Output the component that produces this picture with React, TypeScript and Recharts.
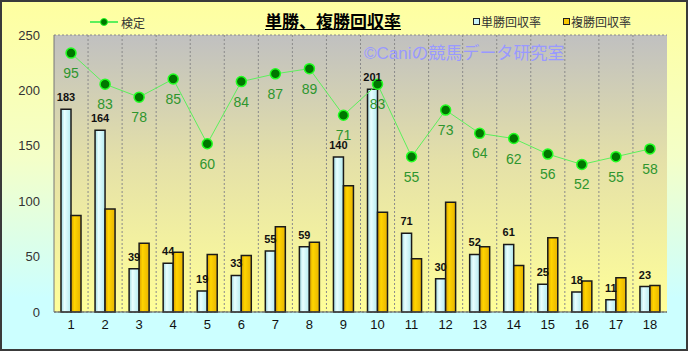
import React from 'react';
import { ComposedChart, Bar, Line, XAxis, YAxis, CartesianGrid, LabelList } from 'recharts';

const races = ['1', '2', '3', '4', '5', '6', '7', '8', '9', '10', '11', '12', '13', '14', '15', '16', '17', '18'];
const tanshoRate = [183, 164, 39, 44, 19, 33, 55, 59, 140, 201, 71, 30, 52, 61, 25, 18, 11, 23];
const fukushoRate = [87, 93, 62, 54, 52, 51, 77, 63, 114, 90, 48, 99, 59, 42, 67, 28, 31, 24];
const kenteiRate = [95, 83, 78, 85, 60, 84, 87, 89, 71, 83, 55, 73, 64, 62, 56, 52, 55, 58];
const yTicks = [0, 50, 100, 150, 200, 250];
// secondary (hidden) axis range for the 検定 line
const kenteiDomain = [-5, 102];

const data = races.map((race, i) => ({
  race,
  tansho: tanshoRate[i],
  fukusho: fukushoRate[i],
  kentei: kenteiRate[i],
}));

const FONT = "'Liberation Sans', 'Noto Sans CJK JP', sans-serif";

const TanshoLabel = (props: any) => {
  const x = Number(props.x), y = Number(props.y), w = Number(props.width);
  return (
    <text x={x + w / 2} y={y - 8} textAnchor="middle" fontSize={11} fontWeight="bold" fill="#111" fontFamily={FONT}>
      {props.value}
    </text>
  );
};

const KenteiLabel = (props: any) => {
  const x = Number(props.x), y = Number(props.y);
  return (
    <text x={x} y={y + 25} textAnchor="middle" fontSize={14} fill="#2e962e" fontFamily={FONT}>
      {props.value}
    </text>
  );
};

export default function App() {
  return (
    <div
      style={{
        position: 'absolute',
        left: 0,
        top: 0,
        width: 688,
        height: 351,
        background: 'linear-gradient(to bottom, #ffffa0 0%, #f4ffc8 45%, #ccffff 85%, #ccffff 100%)',
        fontFamily: FONT,
        overflow: 'hidden',
      }}
    >
      <ComposedChart
        width={688}
        height={351}
        data={data}
        margin={{ top: 35, right: 21, bottom: 0, left: 0 }}
        barGap={0}
        barSize={10}
      >
        <defs>
          <linearGradient id="plotBg" x1="0" y1="0" x2="0" y2="1">
            <stop offset="0%" stopColor="#c0c0c0" />
            <stop offset="45%" stopColor="#e4e0a8" />
            <stop offset="100%" stopColor="#ffff99" />
          </linearGradient>
          <linearGradient id="cyanBar" x1="0" y1="0" x2="1" y2="0">
            <stop offset="0%" stopColor="#9ed8e0" />
            <stop offset="35%" stopColor="#e8ffff" />
            <stop offset="100%" stopColor="#b4eaf0" />
          </linearGradient>
          <linearGradient id="goldBar" x1="0" y1="0" x2="1" y2="0">
            <stop offset="0%" stopColor="#d8a000" />
            <stop offset="35%" stopColor="#ffd400" />
            <stop offset="100%" stopColor="#e8b400" />
          </linearGradient>
        </defs>
        <CartesianGrid
          fill="url(#plotBg)"
          stroke="#8a8a8a"
          strokeDasharray="2 2"
          verticalCoordinatesGenerator={(p: any) =>
            races.slice(1).map((_, i) => p.offset.left + (p.offset.width * (i + 1)) / races.length)
          }
        />
        <XAxis
          dataKey="race"
          height={39}
          axisLine={{ stroke: '#555' }}
          tickLine={false}
          tick={{ fill: '#111', fontSize: 13, fontFamily: FONT }}
        />
        <YAxis
          yAxisId="left"
          width={54}
          domain={[0, 250]}
          ticks={yTicks}
          axisLine={{ stroke: '#777' }}
          tickLine={false}
          tickMargin={8}
          tick={{ fill: '#333', fontSize: 13, fontFamily: FONT }}
        />
        <YAxis yAxisId="right" orientation="right" domain={kenteiDomain} allowDataOverflow hide />
        <Bar yAxisId="left" dataKey="tansho" fill="url(#cyanBar)" stroke="#1a1a1a" strokeWidth={1.5} isAnimationActive={false}>
          <LabelList dataKey="tansho" content={TanshoLabel} />
        </Bar>
        <Bar yAxisId="left" dataKey="fukusho" fill="url(#goldBar)" stroke="#1a1a1a" strokeWidth={1.5} isAnimationActive={false} />
        <Line
          yAxisId="right"
          dataKey="kentei"
          stroke="#5cf05c"
          strokeWidth={1}
          dot={{ r: 5, fill: '#007700', stroke: '#22ff22', strokeWidth: 1.5 }}
          isAnimationActive={false}
        >
          <LabelList dataKey="kentei" content={KenteiLabel} />
        </Line>
      </ComposedChart>

      {/* title */}
      <div
        style={{
          position: 'absolute',
          left: 260,
          top: 8,
          width: 146,
          textAlign: 'center',
          fontSize: 17,
          fontWeight: 'bold',
          textDecoration: 'underline',
          color: '#000',
          whiteSpace: 'nowrap',
        }}
      >
        単勝、複勝回収率
      </div>

      {/* watermark */}
      <div
        style={{
          position: 'absolute',
          left: 364,
          top: 39,
          fontSize: 17,
          color: '#9999ff',
          whiteSpace: 'nowrap',
        }}
      >
        ©Caniの競馬データ研究室
      </div>

      {/* legend */}
      <svg style={{ position: 'absolute', left: 88, top: 15 }} width={32} height={14}>
        <line x1={2} y1={7} x2={30} y2={7} stroke="#5cf05c" strokeWidth={2} />
        <circle cx={16} cy={7} r={3.5} fill="#007700" stroke="#22ff22" strokeWidth={1} />
      </svg>
      <div style={{ position: 'absolute', left: 121, top: 14, fontSize: 12, color: '#333' }}>検定</div>

      <div style={{ position: 'absolute', left: 473, top: 18, width: 5, height: 5, background: '#c8f4f8', border: '1px solid #222' }} />
      <div style={{ position: 'absolute', left: 481, top: 13, fontSize: 12, color: '#333' }}>単勝回収率</div>
      <div style={{ position: 'absolute', left: 563, top: 18, width: 5, height: 5, background: '#f8c800', border: '1px solid #222' }} />
      <div style={{ position: 'absolute', left: 571, top: 13, fontSize: 12, color: '#333' }}>複勝回収率</div>

      {/* frame */}
      <div
        style={{
          position: 'absolute',
          left: 0,
          top: 0,
          width: 688,
          height: 351,
          boxSizing: 'border-box',
          border: '2px solid #3a3a3a',
          pointerEvents: 'none',
        }}
      />
    </div>
  );
}
